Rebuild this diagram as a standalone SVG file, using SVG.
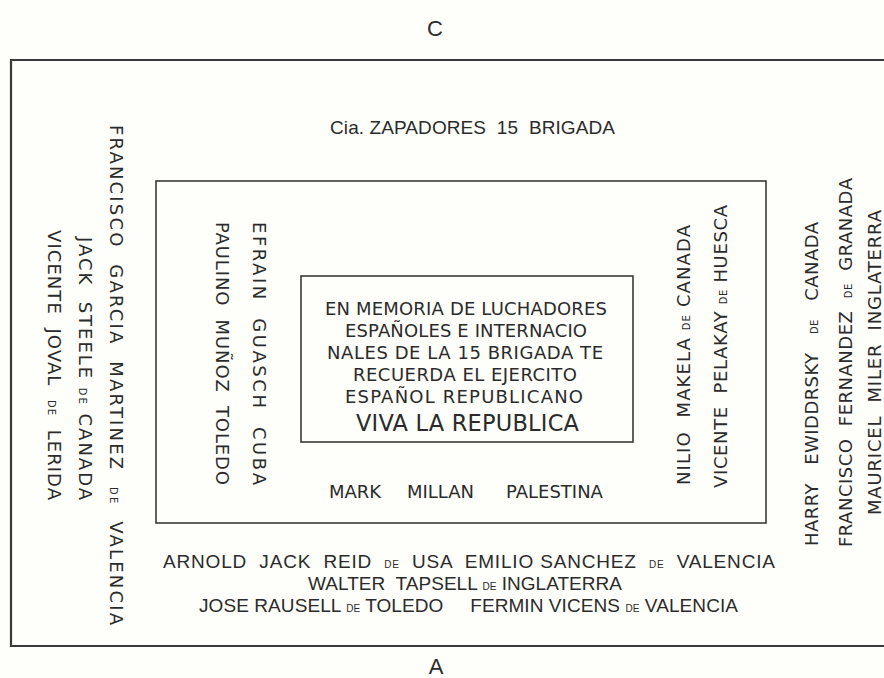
<svg xmlns="http://www.w3.org/2000/svg" width="884" height="678" viewBox="0 0 884 678">
<style>
.v{font-family:"DejaVu Sans","Verdana",sans-serif;font-size:18px;fill:#2b2b2b;white-space:pre}
.n{font-family:"Liberation Sans","Arial",sans-serif;font-size:19px;fill:#2b2b2b;white-space:pre}
.s{font-size:10px}
.frame{fill:none;stroke:#3a3a3a}
</style>
<rect x="0" y="0" width="884" height="678" fill="#fefefa"/>
<g id="labels">
<text class="n" x="435" y="36" text-anchor="middle" style="font-size:22px">C</text>
<text class="n" x="436" y="674" text-anchor="middle" style="font-size:22px">A</text>
</g>
<g id="frames">
<path class="frame" d="M884,60 H11 V646 H884" stroke-width="2.2"/>
<rect id="middle" class="frame" x="156" y="181" width="610" height="342" stroke-width="1.6"/>
<rect id="inner" class="frame" x="301" y="276" width="332" height="166" stroke-width="1.6"/>
</g>
<g id="top">
<text class="n" x="330" y="134" textLength="285">Cia. ZAPADORES  15  BRIGADA</text>
</g>
<g id="memorial">
<text class="v" x="325" y="315" textLength="282">EN MEMORIA DE LUCHADORES</text>
<text class="v" x="345" y="337" textLength="242">ESPAÑOLES E INTERNACIO</text>
<text class="v" x="327" y="359" textLength="276">NALES DE LA 15 BRIGADA TE</text>
<text class="v" x="353" y="381" textLength="224">RECUERDA EL EJERCITO</text>
<text class="v" x="345" y="403" textLength="238">ESPAÑOL REPUBLICANO</text>
<text class="v" x="356" y="431" textLength="223" style="font-size:22.5px">VIVA LA REPUBLICA</text>
</g>
<g id="left-outer">
<text class="v" transform="translate(110.4,125) rotate(90)" textLength="500">FRANCISCO  GARCIA  MARTINEZ  <tspan class="s">DE</tspan>  VALENCIA</text>
<text class="v" transform="translate(79.4,237) rotate(90)" textLength="263">JACK  STEELE <tspan class="s">DE</tspan> CANADA</text>
<text class="v" transform="translate(48.4,230) rotate(90)" textLength="270">VICENTE  JOVAL  <tspan class="s">DE</tspan>  LERIDA</text>
</g>
<g id="left-inner">
<text class="v" transform="translate(253.4,222) rotate(90)" textLength="263">EFRAIN  GUASCH  CUBA</text>
<text class="v" transform="translate(216.4,222) rotate(90)" textLength="263">PAULINO  MUÑOZ  TOLEDO</text>
</g>
<g id="right-inner">
<text class="v" transform="translate(689.6,485) rotate(-90)" textLength="260">NILIO  MAKELA <tspan class="s">DE</tspan> CANADA</text>
<text class="v" transform="translate(726.6,488) rotate(-90)" textLength="283">VICENTE  PELAKAY <tspan class="s">DE</tspan> HUESCA</text>
</g>
<g id="right-outer">
<text class="v" transform="translate(817.6,546) rotate(-90)" textLength="324">HARRY   EWIDDRSKY   <tspan class="s">DE</tspan>   CANADA</text>
<text class="v" transform="translate(851.6,547) rotate(-90)" textLength="369">FRANCISCO  FERNANDEZ  <tspan class="s">DE</tspan>  GRANADA</text>
<text class="v" transform="translate(880.5,515) rotate(-90)" textLength="305">MAURICEL  MILER  INGLATERRA</text>
</g>
<g id="palestina">
<text class="v"><tspan x="329" y="498">MARK</tspan><tspan x="407" y="498">MILLAN</tspan><tspan x="506" y="498">PALESTINA</tspan></text>
</g>
<g id="bottom">
<text class="n" x="163" y="568" textLength="612">ARNOLD  JACK  REID  <tspan class="s">DE</tspan>  USA  EMILIO SANCHEZ  <tspan class="s">DE</tspan>  VALENCIA</text>
<text class="n" x="308" y="590" textLength="314">WALTER  TAPSELL <tspan class="s">DE</tspan> INGLATERRA</text>
<text class="n" x="199" y="612" textLength="539">JOSE RAUSELL <tspan class="s">DE</tspan> TOLEDO     FERMIN VICENS <tspan class="s">DE</tspan> VALENCIA</text>
</g>
</svg>
